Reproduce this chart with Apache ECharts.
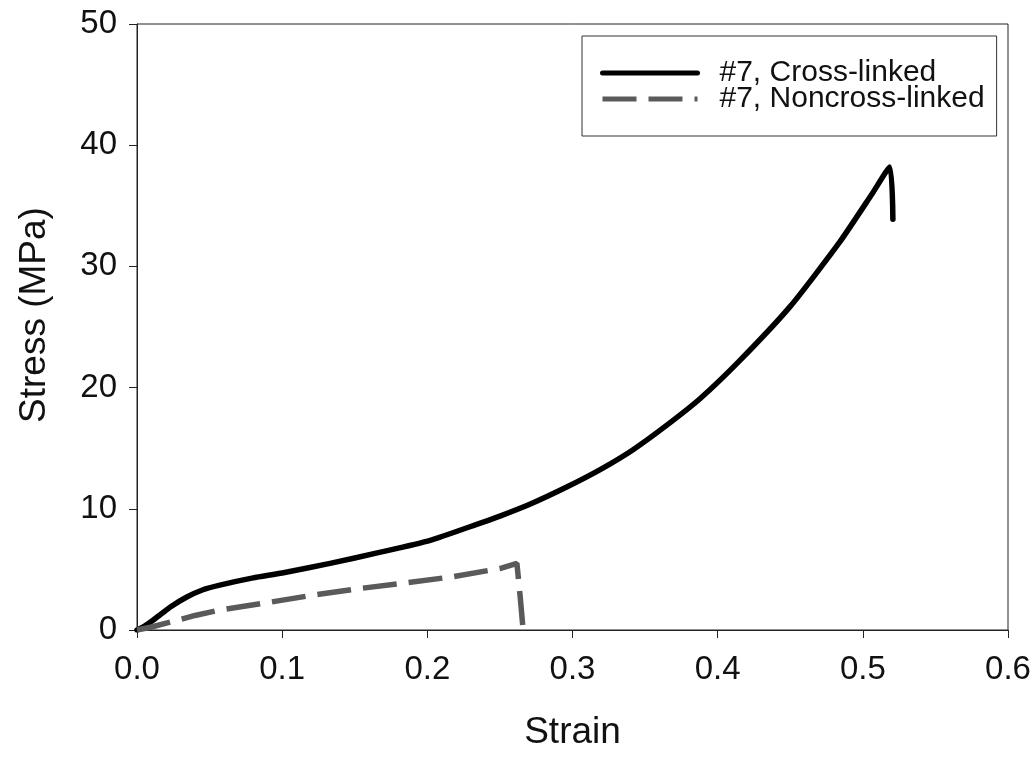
<!DOCTYPE html>
<html>
<head>
<meta charset="utf-8">
<script src="https://cdn.jsdelivr.net/npm/echarts@6/dist/echarts.min.js"></script>
<style>
html,body{margin:0;padding:0;background:#fff;}
#chart{width:1036px;height:759px;}
</style>
</head>
<body>
<div id="chart"></div>
<script>
// Data
const seriesNames = ['#7, Cross-linked', '#7, Noncross-linked'];
const crossStrain = [0, 0.005, 0.011, 0.017, 0.023, 0.034, 0.045, 0.057, 0.08, 0.1, 0.133, 0.167, 0.202, 0.236, 0.25, 0.271, 0.296, 0.32, 0.342, 0.365, 0.388, 0.415, 0.45, 0.484, 0.507, 0.5186, 0.5207];
const crossStress = [0, 0.3, 0.8, 1.35, 1.9, 2.7, 3.3, 3.7, 4.3, 4.7, 5.5, 6.4, 7.4, 8.8, 9.4, 10.4, 11.8, 13.3, 14.9, 16.9, 19.1, 22.2, 26.7, 32.0, 36.1, 38.2, 33.9];
const nonStrain = [0, 0.01, 0.023, 0.04, 0.055, 0.087, 0.12, 0.152, 0.186, 0.218, 0.251, 0.2617, 0.264, 0.266];
const nonStress = [0, 0.25, 0.65, 1.2, 1.6, 2.2, 2.85, 3.4, 3.9, 4.4, 5.1, 5.5, 2.7, 0];
const xTicks = [0, 0.1, 0.2, 0.3, 0.4, 0.5, 0.6];
const yTicks = [0, 10, 20, 30, 40, 50];

const pair = (xs, ys) => xs.map((x, i) => [x, ys[i]]);
const font = '"Liberation Sans", Arial, sans-serif';

const chart = echarts.init(document.getElementById('chart'), null, {renderer: 'canvas'});
chart.setOption({
  backgroundColor: '#fff',
  animation: false,
  grid: {left: 137, right: 28, top: 24, bottom: 129, show: true, borderColor: '#222', borderWidth: 1, backgroundColor: 'transparent'},
  legend: {
    left: 582, top: 36, orient: 'vertical',
    data: seriesNames,
    itemWidth: 95, itemHeight: 14, itemGap: -4,
    padding: [22, 12, 22, 18],
    borderColor: '#333', borderWidth: 1,
    itemStyle: {opacity: 0},
    lineStyle: {width: 5},
    textStyle: {fontFamily: font, fontSize: 30, color: '#111', padding: [0, 0, 0, 17]}
  },
  xAxis: {
    type: 'value', min: xTicks[0], max: xTicks[xTicks.length - 1], interval: 0.1,
    name: 'Strain', nameLocation: 'middle', nameGap: 84,
    nameTextStyle: {fontFamily: font, fontSize: 37, color: '#111'},
    axisLine: {show: true, onZero: false, lineStyle: {color: '#222', width: 1}},
    axisTick: {show: true, length: 8, lineStyle: {color: '#222'}},
    axisLabel: {fontFamily: font, fontSize: 33, color: '#111', margin: 23, formatter: v => v.toFixed(1)},
    splitLine: {show: false}
  },
  yAxis: {
    type: 'value', min: yTicks[0], max: yTicks[yTicks.length - 1], interval: 10,
    name: 'Stress (MPa)', nameLocation: 'middle', nameGap: 84,
    nameTextStyle: {fontFamily: font, fontSize: 37, color: '#111', padding: [0, 0, 0, 24]},
    axisLine: {show: true, onZero: false, lineStyle: {color: '#222', width: 1}},
    axisTick: {show: true, length: 8, lineStyle: {color: '#222'}},
    axisLabel: {fontFamily: font, fontSize: 33, color: '#111', margin: 20},
    splitLine: {show: false}
  },
  series: [
    {
      name: seriesNames[0], type: 'line', data: pair(crossStrain, crossStress),
      showSymbol: false, symbol: 'none', smooth: 0.2,
      lineStyle: {color: '#000', width: 5.5, join: 'round', cap: 'round'},
      itemStyle: {color: '#000'}
    },
    {
      name: seriesNames[1], type: 'line', data: pair(nonStrain, nonStress),
      showSymbol: false, symbol: 'none', smooth: false,
      lineStyle: {color: '#5a5a5a', width: 5.5, type: [34, 12]},
      itemStyle: {color: '#5a5a5a'}
    }
  ]
});
</script>
</body>
</html>
